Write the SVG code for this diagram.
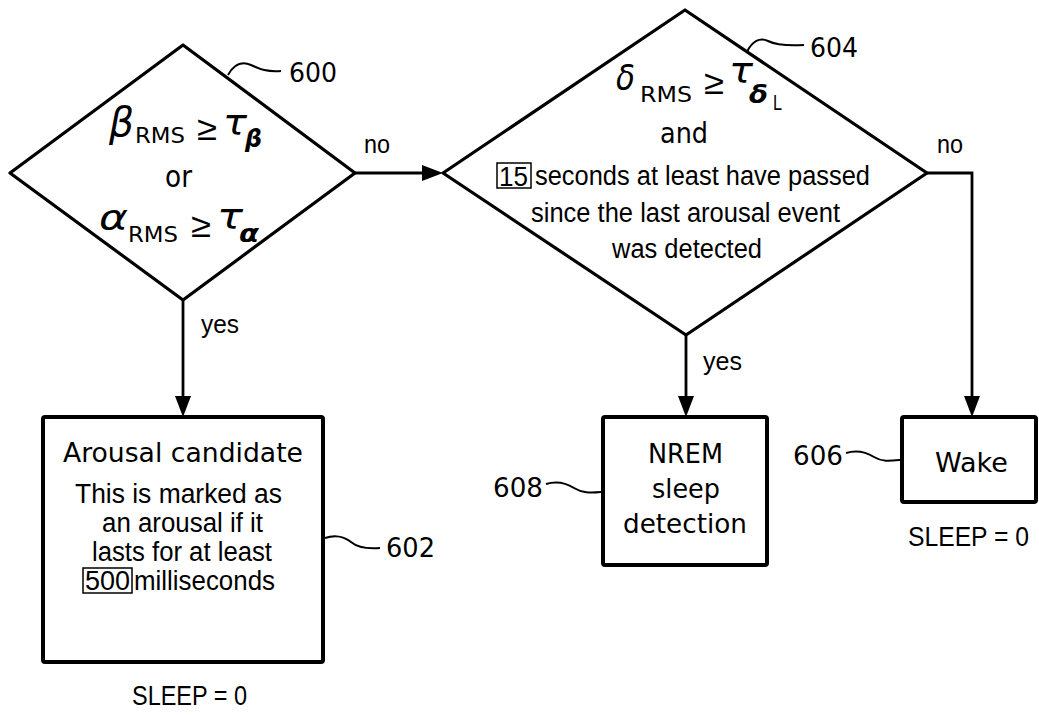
<svg xmlns="http://www.w3.org/2000/svg" width="1039" height="715" viewBox="0 0 1039 715">
<style>
.shape{fill:#fff;stroke:#000;stroke-linejoin:round}
.dia{stroke-width:3.2}
.box{stroke-width:4}
.conn{fill:none;stroke:#000;stroke-width:2.8}
.lead{fill:none;stroke:#000;stroke-width:2}
.tah{font-family:"DejaVu Sans","Liberation Sans",sans-serif;fill:#000}
.nar{font-family:"Liberation Sans Narrow","Liberation Sans",Arial,sans-serif;fill:#000}
.ge{font-family:"Liberation Sans",Arial,sans-serif;fill:#000}
.gk{font-family:"DejaVu Sans","Liberation Sans",sans-serif;font-style:italic;fill:#000}
.gkb{font-family:"DejaVu Sans","Liberation Sans",sans-serif;font-style:italic;font-weight:bold;fill:#000}
.hl{fill:none;stroke:#000;stroke-width:1.5}
</style>
<defs>
<marker id="arr" markerUnits="userSpaceOnUse" viewBox="0 0 21 16" refX="11" refY="8" markerWidth="21" markerHeight="16" orient="auto">
<path d="M0,0 L21,8 L0,16 Z" fill="#000"/>
</marker>
</defs>
<rect width="1039" height="715" fill="#fff"/>

<g id="connectors">
<path class="conn" d="M183,300 V407" marker-end="url(#arr)"/>
<path class="conn" d="M355,173 H433" marker-end="url(#arr)"/>
<path class="conn" d="M686,335 V407" marker-end="url(#arr)"/>
<path class="conn" d="M927,173 H972 V407" marker-end="url(#arr)"/>
<text class="nar" x="364" y="153" font-size="26" textLength="26" lengthAdjust="spacingAndGlyphs">no</text>
<text class="nar" x="937" y="153" font-size="26" textLength="26" lengthAdjust="spacingAndGlyphs">no</text>
<text class="nar" x="201" y="333" font-size="26" textLength="38" lengthAdjust="spacingAndGlyphs">yes</text>
<text class="nar" x="703" y="370" font-size="26" textLength="39" lengthAdjust="spacingAndGlyphs">yes</text>
</g>

<g id="node600">
<polygon class="shape dia" points="183,45 355,173 183,300 10,173"/>
<text class="gk" x="109" y="136" font-size="40" textLength="25" lengthAdjust="spacingAndGlyphs">β</text>
<text class="tah" x="135" y="143" font-size="21" textLength="50" lengthAdjust="spacingAndGlyphs">RMS</text>
<text class="ge" x="197" y="140" font-size="34" textLength="20" lengthAdjust="spacingAndGlyphs">≥</text>
<text class="gk" x="223" y="135" font-size="36" textLength="24" lengthAdjust="spacingAndGlyphs">τ</text>
<text class="gkb" x="245" y="147" font-size="24" textLength="17" lengthAdjust="spacingAndGlyphs">β</text>
<text class="tah" x="165" y="187" font-size="30" textLength="27" lengthAdjust="spacingAndGlyphs">or</text>
<text class="gk" x="99" y="230" font-size="36" textLength="29" lengthAdjust="spacingAndGlyphs">α</text>
<text class="tah" x="128" y="242" font-size="21" textLength="50" lengthAdjust="spacingAndGlyphs">RMS</text>
<text class="ge" x="191" y="237" font-size="34" textLength="20" lengthAdjust="spacingAndGlyphs">≥</text>
<text class="gk" x="217" y="229" font-size="36" textLength="26" lengthAdjust="spacingAndGlyphs">τ</text>
<text class="gkb" x="239" y="242" font-size="24" textLength="20" lengthAdjust="spacingAndGlyphs">α</text>
<path class="lead" d="M228,75 C234,64 242,61 251,65 S266,72 281,71"/>
<text class="tah" x="289" y="82" font-size="27" textLength="48" lengthAdjust="spacingAndGlyphs">600</text>
</g>

<g id="node604">
<polygon class="shape dia" points="685,10 927,173 686,335 443,173"/>
<text class="gk" x="616" y="90" font-size="36" textLength="19" lengthAdjust="spacingAndGlyphs">δ</text>
<text class="tah" x="640" y="102" font-size="21" textLength="52" lengthAdjust="spacingAndGlyphs">RMS</text>
<text class="ge" x="704" y="94" font-size="34" textLength="20" lengthAdjust="spacingAndGlyphs">≥</text>
<text class="gk" x="729" y="83" font-size="36" textLength="24" lengthAdjust="spacingAndGlyphs">τ</text>
<text class="gkb" x="749" y="103" font-size="24" textLength="19" lengthAdjust="spacingAndGlyphs">δ</text>
<text class="nar" x="773" y="110" font-size="22" textLength="9" lengthAdjust="spacingAndGlyphs">L</text>
<text class="tah" x="660" y="143" font-size="29" textLength="48" lengthAdjust="spacingAndGlyphs">and</text>
<rect class="hl" x="497" y="163" width="34" height="25"/>
<text class="nar" x="499" y="186" font-size="27" textLength="29" lengthAdjust="spacingAndGlyphs">15</text>
<text class="nar" x="535" y="185" font-size="27" textLength="335" lengthAdjust="spacingAndGlyphs">seconds at least have passed</text>
<text class="nar" x="531" y="222" font-size="27" textLength="309" lengthAdjust="spacingAndGlyphs">since the last arousal event</text>
<text class="nar" x="612" y="258" font-size="27" textLength="150" lengthAdjust="spacingAndGlyphs">was detected</text>
<path class="lead" d="M747,52 C752,41 760,37 768,41 S786,46 804,45"/>
<text class="tah" x="810" y="57" font-size="27" textLength="48" lengthAdjust="spacingAndGlyphs">604</text>
</g>

<g id="node602">
<rect class="shape box" x="43" y="417" width="280" height="245" rx="2"/>
<text class="tah" x="63" y="462" font-size="26" textLength="240" lengthAdjust="spacingAndGlyphs">Arousal candidate</text>
<text class="nar" x="75" y="503" font-size="27" textLength="207" lengthAdjust="spacingAndGlyphs">This is marked as</text>
<text class="nar" x="102" y="532" font-size="27" textLength="161" lengthAdjust="spacingAndGlyphs">an arousal if it</text>
<text class="nar" x="92" y="561" font-size="27" textLength="180" lengthAdjust="spacingAndGlyphs">lasts for at least</text>
<rect class="hl" x="83" y="568" width="49" height="25"/>
<text class="nar" x="85" y="590" font-size="27" textLength="45" lengthAdjust="spacingAndGlyphs">500</text>
<text class="nar" x="134" y="590" font-size="27" textLength="141" lengthAdjust="spacingAndGlyphs">milliseconds</text>
<text class="nar" x="132" y="705" font-size="27" textLength="115" lengthAdjust="spacingAndGlyphs">SLEEP = 0</text>
<path class="lead" d="M325,538 C334,535 344,536 351,542 S367,549 380,548"/>
<text class="tah" x="386" y="557" font-size="27" textLength="49" lengthAdjust="spacingAndGlyphs">602</text>
</g>

<g id="node608">
<rect class="shape box" x="603" y="417" width="164" height="148" rx="2"/>
<text class="tah" x="648" y="463" font-size="27" textLength="75" lengthAdjust="spacingAndGlyphs">NREM</text>
<text class="tah" x="652" y="498" font-size="27" textLength="68" lengthAdjust="spacingAndGlyphs">sleep</text>
<text class="tah" x="623" y="533" font-size="27" textLength="124" lengthAdjust="spacingAndGlyphs">detection</text>
<path class="lead" d="M546,484 C556,481 566,483 574,488 S590,493 601,492"/>
<text class="tah" x="493" y="497" font-size="27" textLength="50" lengthAdjust="spacingAndGlyphs">608</text>
</g>

<g id="node606">
<rect class="shape box" x="902" y="417" width="134" height="85" rx="2"/>
<text class="tah" x="935" y="472" font-size="27" textLength="73" lengthAdjust="spacingAndGlyphs">Wake</text>
<text class="nar" x="908" y="546" font-size="27" textLength="121" lengthAdjust="spacingAndGlyphs">SLEEP = 0</text>
<path class="lead" d="M846,453 C856,450 866,452 874,457 S890,461 900,460"/>
<text class="tah" x="793" y="465" font-size="27" textLength="50" lengthAdjust="spacingAndGlyphs">606</text>
</g>
</svg>
